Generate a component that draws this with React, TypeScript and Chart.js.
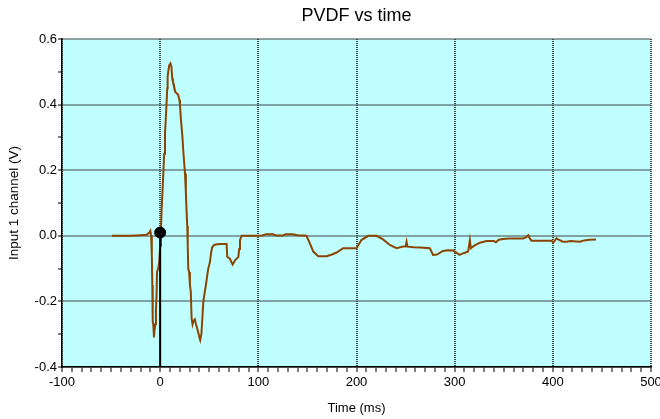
import React, { useEffect, useRef } from 'react';
import { Chart, registerables } from 'chart.js';

Chart.register(...registerables);

// ---- data ----
const timeMs = [
  -49, -30, -20, -13.8, -11, -10, -9.2, -8.5, -8, -7.6, -7, -6.3, -5.8, -5, -4.3, -3.6, -3.2, -2, -1, 0,
  0.8, 1.5, 2.3, 3.2, 4.1, 4.9, 5.8, 6.6, 7.2, 7.6, 8.2, 9.3, 10.5, 11.5, 12.3, 13, 14, 15.2, 16.5, 18.4,
  19.5, 20.2, 21, 21.9, 22.7, 23.5, 24.3, 25.3, 26.2, 27, 27.6, 28.1, 28.6, 29.5, 30.3, 31.2, 32, 33, 34, 35.4,
  36.5, 37.5, 38.8, 40, 40.8, 42, 43.2, 44, 45, 46.6, 48, 49, 50.7, 52, 53, 55, 58, 62, 67.7, 68.3,
  71, 73.8, 76.2, 79.6, 80.5, 81.3, 83, 95, 104, 108, 115, 118, 125, 128, 135, 140, 149, 152.5, 156, 161,
  169.5, 175, 179.7, 186.5, 193, 200, 205, 212, 220.5, 227, 234, 240.8, 247.5, 250, 251, 252, 258, 265, 274.7, 278,
  282, 288, 293, 298.5, 302, 305, 309, 313.7, 315.5, 316.5, 320, 325.7, 332.5, 340, 342, 345, 349.4, 355, 369.8, 373,
  374.9, 376.5, 378.3, 390, 398.7, 400.3, 402, 403.8, 406, 410, 414, 418, 427.5, 432, 437, 444,
];
const voltage = [
  0, 0, 0.002, 0.003, 0.01, 0.015, 0.0, -0.06, -0.15, -0.26, -0.27, -0.31, -0.29, -0.27, -0.23, -0.17, -0.11, -0.1, -0.08, -0.03,
  0.02, 0.08, 0.13, 0.19, 0.25, 0.31, 0.36, 0.41, 0.45, 0.485, 0.5, 0.52, 0.525, 0.515, 0.48, 0.47, 0.46, 0.44, 0.435, 0.43,
  0.415, 0.4, 0.36, 0.33, 0.3, 0.26, 0.23, 0.19, 0.13, 0.07, 0.03, -0.03, -0.1, -0.11, -0.15, -0.17, -0.25, -0.27, -0.26, -0.255,
  -0.27, -0.28, -0.295, -0.31, -0.318, -0.3, -0.24, -0.2, -0.18, -0.15, -0.12, -0.1, -0.08, -0.05, -0.035, -0.028, -0.026, -0.025, -0.025, -0.064,
  -0.07, -0.088, -0.075, -0.065, -0.04, -0.013, 0, 0, 0.001, 0.005, 0.005, 0.001, 0.001, 0.005, 0.005, 0.002, 0, -0.023, -0.048, -0.062,
  -0.062, -0.057, -0.051, -0.038, -0.038, -0.038, -0.013, 0, 0, -0.011, -0.028, -0.038, -0.033, -0.033, -0.018, -0.033, -0.035, -0.036, -0.038, -0.058,
  -0.057, -0.046, -0.044, -0.045, -0.052, -0.058, -0.053, -0.048, -0.013, -0.038, -0.03, -0.021, -0.016, -0.016, -0.02, -0.012, -0.01, -0.008, -0.008, -0.004,
  0.002, -0.008, -0.015, -0.015, -0.015, -0.021, -0.015, -0.008, -0.012, -0.018, -0.018, -0.016, -0.018, -0.014, -0.012, -0.011,
];
const markerTime = [0];
const markerVolt = [0.01];

const titleText = 'PVDF vs time';
const xMin = -100;
const xMax = 500;
const xStep = 10;
const xMajor = 100;
const yMin = -0.4;
const yMax = 0.6;
const yStep = 0.1;

const FONT = "'Liberation Sans', Arial, sans-serif";
const GRID = '#3f4747';
const DASH = [1, 1];

const isMajorX = (v: number) => Math.abs(v % xMajor) < 1e-6;
const isMajorY = (v: number) => Math.abs(Math.round(v * 10)) % 2 === 0;
const fmtY = (v: number) => {
  const r = Math.round(v * 10) / 10;
  return r === 0 ? '0.0' : r.toFixed(1);
};

const plotBg = {
  id: 'plotBg',
  beforeDraw(chart: any) {
    const { ctx, chartArea } = chart;
    if (!chartArea) return;
    ctx.save();
    ctx.fillStyle = '#c0ffff';
    ctx.fillRect(chartArea.left, chartArea.top, chartArea.right - chartArea.left, chartArea.bottom - chartArea.top);
    ctx.restore();
  },
};

// title centred over the plot area (as in the reference)
const plotTitle = {
  id: 'plotTitle',
  afterDraw(chart: any) {
    const { ctx, chartArea } = chart;
    if (!chartArea) return;
    ctx.save();
    ctx.fillStyle = '#000';
    ctx.font = `18px ${FONT}`;
    ctx.textAlign = 'center';
    ctx.textBaseline = 'middle';
    ctx.fillText(titleText, (chartArea.left + chartArea.right) / 2, 16);
    ctx.restore();
  },
};

export default function App() {
  const ref = useRef<HTMLCanvasElement>(null);

  useEffect(() => {
    document.body.style.margin = '0';
    const trace = timeMs.map((t, i) => ({ x: t, y: voltage[i] }));
    const dot = markerTime.map((t, i) => ({ x: t, y: markerVolt[i] }));
    const cursor = [
      { x: markerTime[0], y: markerVolt[0] },
      { x: markerTime[0], y: yMin },
    ];

    const chart = new Chart(ref.current as HTMLCanvasElement, {
      type: 'line',
      data: {
        datasets: [
          {
            data: dot,
            showLine: false,
            pointRadius: 5.5,
            pointBackgroundColor: '#000',
            pointBorderColor: '#000',
            borderColor: '#000',
          },
          {
            data: cursor,
            borderColor: '#000',
            borderWidth: 2,
            pointRadius: 0,
          },
          {
            data: trace,
            borderColor: '#8B4500',
            borderWidth: 2,
            pointRadius: 0,
            tension: 0,
          },
        ],
      },
      plugins: [plotBg, plotTitle],
      options: {
        animation: false,
        responsive: false,
        events: [],
        layout: { padding: { left: 0, right: 9, top: 39, bottom: 0 } },
        plugins: {
          legend: { display: false },
          tooltip: { enabled: false },
          title: { display: false },
        },
        scales: {
          x: {
            type: 'linear',
            min: xMin,
            max: xMax,
            afterFit(scale: any) {
              scale.height = 52;
              scale.paddingLeft = 0;
              scale.paddingRight = 0;
            },
            ticks: {
              stepSize: xStep,
              autoSkip: false,
              maxRotation: 0,
              minRotation: 0,
              padding: 3,
              color: '#000',
              font: { family: FONT, size: 13 },
              callback: (v: any) => (isMajorX(Number(v)) ? String(Math.round(Number(v))) : ''),
            },
            grid: {
              color: (c: any) => (c.tick && isMajorX(c.tick.value) ? GRID : 'rgba(0,0,0,0)'),
              lineWidth: 2,
              borderDash: DASH,
              drawTicks: true,
              tickColor: '#000',
              tickLength: 5,
              tickWidth: 1,
            },
            border: { display: true, color: '#000', width: 1.5, dash: DASH },
            title: {
              display: true,
              text: 'Time (ms)',
              color: '#000',
              font: { family: FONT, size: 13 },
              padding: { top: 0, bottom: 3 },
            },
          },
          y: {
            type: 'linear',
            min: yMin,
            max: yMax,
            afterFit(scale: any) {
              scale.width = 62;
              scale.paddingTop = 0;
              scale.paddingBottom = 0;
            },
            ticks: {
              stepSize: yStep,
              autoSkip: false,
              padding: 1,
              color: '#000',
              font: { family: FONT, size: 13 },
              callback: (v: any) => (isMajorY(Number(v)) ? fmtY(Number(v)) : ''),
            },
            grid: {
              color: (c: any) => (c.tick && isMajorY(c.tick.value) ? GRID : 'rgba(0,0,0,0)'),
              lineWidth: 2,
              borderDash: DASH,
              drawTicks: true,
              tickColor: '#000',
              tickLength: 4,
              tickWidth: 1,
            },
            border: { display: true, color: '#000', width: 1.5, dash: DASH },
            title: {
              display: true,
              text: 'Input 1 channel (V)',
              color: '#000',
              font: { family: FONT, size: 13.5 },
              padding: { top: 6, bottom: 0 },
            },
          },
        },
      } as any,
    });
    return () => chart.destroy();
  }, []);

  return (
    <div style={{ width: 660, height: 419 }}>
      <canvas ref={ref} width={660} height={419} style={{ display: 'block' }} />
    </div>
  );
}
